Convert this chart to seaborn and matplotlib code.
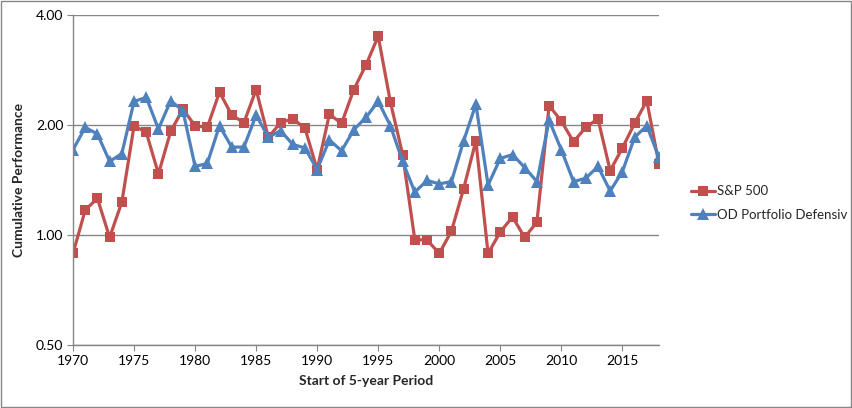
import numpy as np
import pandas as pd
import matplotlib
matplotlib.use("Agg")
import matplotlib.pyplot as plt
import seaborn as sns
from matplotlib.ticker import FixedLocator, NullLocator, FuncFormatter

years = list(range(1970, 2019))

sp500 = [0.89, 1.17, 1.26, 0.985, 1.23, 1.99, 1.91, 1.47, 1.92, 2.21,
         1.99, 1.97, 2.46, 2.13, 2.03, 2.50, 1.85, 2.03, 2.08, 1.96,
         1.51, 2.14, 2.02, 2.50, 2.92, 3.50, 2.31, 1.66, 0.97, 0.97,
         0.89, 1.025, 1.34, 1.81, 0.89, 1.02, 1.12, 0.985, 1.085, 2.26,
         2.05, 1.80, 1.97, 2.08, 1.50, 1.73, 2.02, 2.33, 1.56]

od_defensiv = [1.71, 1.97, 1.89, 1.59, 1.67, 2.32, 2.38, 1.95, 2.33, 2.19,
               1.54, 1.57, 1.99, 1.74, 1.74, 2.13, 1.85, 1.93, 1.77, 1.73,
               1.51, 1.82, 1.70, 1.94, 2.10, 2.32, 1.99, 1.59, 1.31, 1.41,
               1.38, 1.40, 1.81, 2.28, 1.37, 1.62, 1.66, 1.53, 1.40, 2.06,
               1.71, 1.40, 1.43, 1.54, 1.32, 1.49, 1.85, 1.99, 1.63]

y_ticks = [0.5, 1.0, 2.0, 4.0]
x_ticks = list(range(1970, 2016, 5))


def main():
    sns.set_style("white")
    plt.rcParams["font.family"] = ["Lato", "DejaVu Sans"]

    fig = plt.figure(figsize=(8.53, 4.08), dpi=100)
    ax = fig.add_axes([73 / 853, 63 / 408, (659 - 73) / 853, (345 - 15) / 408])

    df = pd.DataFrame({"year": years, "S&P 500": sp500,
                       "OD Portfolio Defensiv": od_defensiv})

    sns.lineplot(data=df, x="year", y="S&P 500", ax=ax, color="#C0504D",
                 linewidth=2.3, marker="s", markersize=7.5, markeredgewidth=0,
                 label="S&P 500")
    sns.lineplot(data=df, x="year", y="OD Portfolio Defensiv", ax=ax,
                 color="#4F81BD", linewidth=2.3, marker="^", markersize=8,
                 markeredgewidth=0, label="OD Portfolio Defensiv")

    ax.set_yscale("log", base=2)
    ax.set_ylim(0.5, 4.0)
    ax.set_xlim(1970, 2018)
    ax.yaxis.set_major_locator(FixedLocator(y_ticks))
    ax.yaxis.set_minor_locator(NullLocator())
    ax.yaxis.set_major_formatter(FuncFormatter(lambda v, p: f"{v:.2f}"))
    ax.xaxis.set_major_locator(FixedLocator(x_ticks))
    ax.xaxis.set_minor_locator(NullLocator())

    ax.grid(axis="y", color="#868686", linewidth=1)
    ax.grid(axis="x", visible=False)
    for side in ["top", "right"]:
        ax.spines[side].set_visible(False)
    for side in ["left", "bottom"]:
        ax.spines[side].set_color("#868686")
        ax.spines[side].set_linewidth(1)
    ax.tick_params(axis="both", which="major", length=4, color="#868686",
                   direction="out", labelsize=10, pad=3, labelcolor="black")
    ax.tick_params(axis="x", bottom=True)
    ax.tick_params(axis="y", left=True)

    ax.set_xlabel("Start of 5-year Period", fontsize=10, fontweight="bold",
                  labelpad=6)
    ax.set_ylabel("Cumulative Performance", fontsize=10, fontweight="bold",
                  labelpad=8)

    ax.legend(loc="center left", bbox_to_anchor=((691 - 73) / 586, 0.43),
              frameon=False, fontsize=9.5, handlelength=1.8,
              handletextpad=0.2, labelspacing=0.9, borderpad=0,
              borderaxespad=0)

    # thin border around the whole figure
    fig.patches.append(plt.Rectangle((0.001, 0.002), 0.997, 0.995,
                                     transform=fig.transFigure, fill=False,
                                     edgecolor="#868686", linewidth=1))

    fig.savefig("out.png", dpi=100)


if __name__ == "__main__":
    main()
